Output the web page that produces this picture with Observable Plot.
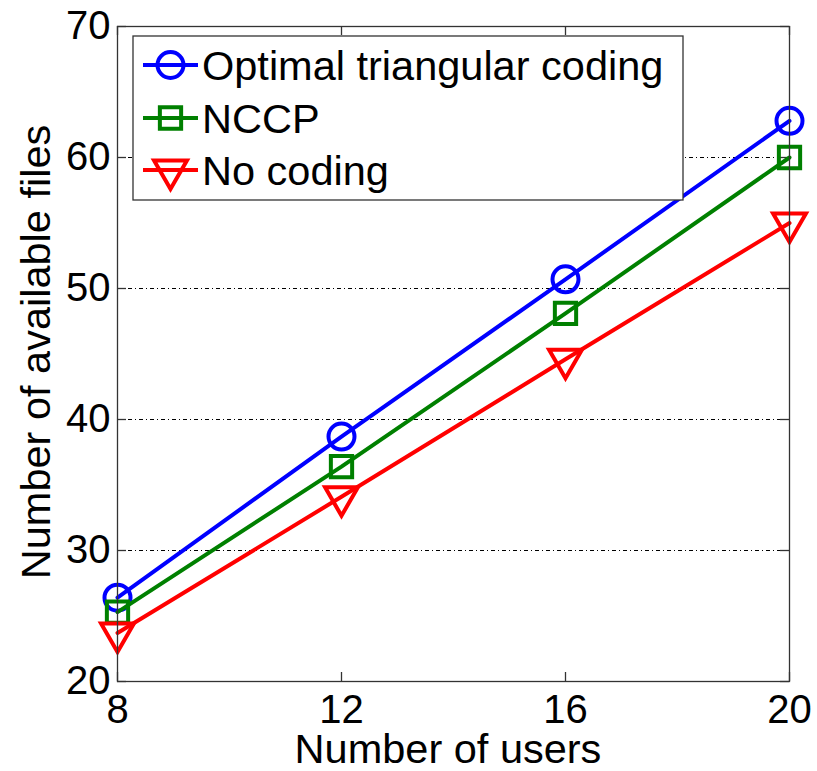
<!DOCTYPE html>
<html><head><meta charset="utf-8">
<script src="https://cdn.jsdelivr.net/npm/d3@7"></script>
<script src="https://cdn.jsdelivr.net/npm/@observablehq/plot@0.6"></script>
<style>body{margin:0;background:#fff} svg{display:block}</style>
</head><body><div id="chart"></div>
<script>
const users = [8, 12, 16, 20];
const optimal = [26.4, 38.7, 50.7, 62.8];
const nccp = [25.3, 36.4, 48.1, 60.0];
const noCoding = [23.7, 34.1, 44.6, 55.0];
const seriesNames = ["Optimal triangular coding", "NCCP", "No coding"];
const xTicks = [8, 12, 16, 20];
const yTicks = [20, 30, 40, 50, 60, 70];
const gridTicks = [30, 40, 50, 60];
const xLabel = "Number of users";
const yLabel = "Number of available files";

const colors = ["#0000ff", "#008000", "#ff0000"];
const symbols = ["circle", "square", "triangle"];
const d3Symbols = [d3.symbolCircle, d3.symbolSquare, d3.symbolTriangle];
const rotations = [0, 0, 180];
const radii = [13, 12, 12.2];
const valuesBySeries = [optimal, nccp, noCoding];
const data = seriesNames.flatMap((name, s) => users.map((u, i) => ({series: name, s, users: u, value: valuesBySeries[s][i]})));

const W = 817, H = 771, mL = 117, mR = 28, mT = 26, mB = 90;
const frameW = W - mL - mR, frameH = H - mT - mB;
const tickLen = 9;
const font = "'Liberation Sans', Arial, Helvetica, sans-serif";
const fs = 40;      // tick labels
const fsText = 41.5; // titles and legend
const axisColor = "#333";
const lw = 4;

const seriesMarks = seriesNames.flatMap((name, s) => {
  const d = data.filter(r => r.s === s);
  return [
    Plot.line(d, {x: "users", y: "value", stroke: colors[s], strokeWidth: lw}),
    Plot.dot(d, {x: "users", y: "value", stroke: colors[s], strokeWidth: lw, fill: "none",
      symbol: symbols[s], r: radii[s], rotate: rotations[s]})
  ];
});

const svg = Plot.plot({
  width: W, height: H,
  marginLeft: mL, marginRight: mR, marginTop: mT, marginBottom: mB,
  style: {fontFamily: font, fontSize: fs + "px", background: "#fff", color: "#000"},
  x: {domain: [8, 20]},
  y: {domain: [20, 70]},
  marks: [
    Plot.gridY(gridTicks, {stroke: "#000", strokeOpacity: 1, strokeWidth: 1, strokeDasharray: "4,3,1,3"}),
    Plot.tickY(yTicks, {insetRight: frameW - tickLen, stroke: axisColor, strokeWidth: 1.3}),
    Plot.tickY(yTicks, {insetLeft: frameW - tickLen, stroke: axisColor, strokeWidth: 1.3}),
    Plot.tickX(xTicks, {insetTop: frameH - tickLen, stroke: axisColor, strokeWidth: 1.3}),
    Plot.tickX(xTicks, {insetBottom: frameH - tickLen, stroke: axisColor, strokeWidth: 1.3}),
    Plot.axisX(xTicks, {tickSize: 0, tickPadding: 13, fontSize: fs, label: null, fill: "#000"}),
    Plot.axisY(yTicks, {tickSize: 0, tickPadding: 7, fontSize: fs, label: null, fill: "#000"}),
    ...seriesMarks,
    Plot.frame({stroke: axisColor, strokeWidth: 1.3})
  ]
});

const root = d3.select(svg);
// axis titles
root.append("text")
  .attr("x", 448).attr("y", 763)
  .attr("text-anchor", "middle")
  .style("font-family", font).style("font-size", fsText + "px").attr("fill", "#000")
  .text(xLabel);
root.append("text")
  .attr("transform", "translate(50,352) rotate(-90)")
  .attr("text-anchor", "middle")
  .style("font-family", font).style("font-size", fsText + "px").attr("fill", "#000")
  .text(yLabel);

// legend
const lg = root.append("g");
lg.append("rect").attr("x", 133).attr("y", 36).attr("width", 550).attr("height", 164)
  .attr("fill", "#fff").attr("stroke", axisColor).attr("stroke-width", 1.3);
const rowY = [65, 118, 170];
seriesNames.forEach((name, s) => {
  const y = rowY[s];
  lg.append("line").attr("x1", 143).attr("x2", 198).attr("y1", y).attr("y2", y)
    .attr("stroke", colors[s]).attr("stroke-width", lw);
  lg.append("path")
    .attr("d", d3.symbol(d3Symbols[s], Math.PI * radii[s] * radii[s])())
    .attr("transform", `translate(170.5,${y}) rotate(${rotations[s]})`)
    .attr("fill", "none").attr("stroke", colors[s]).attr("stroke-width", lw);
  lg.append("text").attr("x", 202).attr("y", y + 15)
    .attr("text-anchor", "start")
    .style("font-family", font).style("font-size", fsText + "px").attr("fill", "#000")
    .text(name);
});

document.getElementById("chart").appendChild(svg);
</script>
</body></html>
